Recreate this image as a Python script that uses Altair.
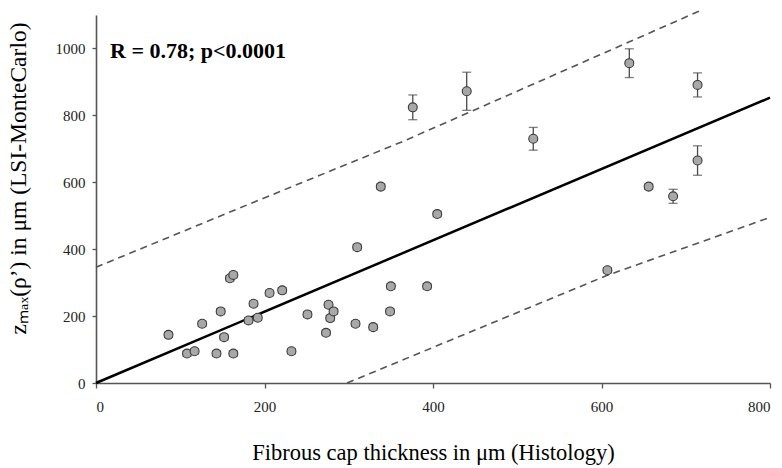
import altair as alt
import pandas as pd

# ---- data ----
cap_thickness = [86, 108, 117, 126, 143, 148, 152, 159, 163, 163, 181, 187, 192, 206, 221,
                 232, 251, 273, 276, 278, 282, 308, 310, 329, 338, 350, 349, 393, 405,
                 376, 440, 519, 633, 714, 714, 656, 685, 607]
zmax = [144, 88, 95, 177, 88, 214, 137, 313, 323, 88, 187, 237, 195, 269, 277,
        95, 205, 150, 234, 194, 214, 177, 406, 167, 587, 289, 214, 289, 505,
        824, 872, 730, 956, 891, 665, 587, 558, 337]
zmax_err = [8] * 29 + [37, 57, 34, 43, 36, 44, 8, 21, 8]

fit_x = [0, 800]
fit_y = [0, 853]

upper_x = [0, 183, 367, 719]
upper_y = [346, 536, 725, 1115]
lower_x = [298, 606, 800]
lower_y = [0, 321, 495]

x_ticks = [0, 200, 400, 600, 800]
y_ticks = [0, 200, 400, 600, 800, 1000]
annotation = ["R = 0.78; p<0.0001"]

x_title = "Fibrous cap thickness in μm (Histology)"
y_title = "zₘₐₓ(ρ’) in μm (LSI-MonteCarlo)"

FONT = "Liberation Serif"

pts = pd.DataFrame({"x": cap_thickness, "y": zmax, "e": zmax_err})
fit = pd.DataFrame({"x": fit_x, "y": fit_y})
band = pd.concat([
    pd.DataFrame({"x": upper_x, "y": upper_y, "band": "upper"}),
    pd.DataFrame({"x": lower_x, "y": lower_y, "band": "lower"}),
])
ann = pd.DataFrame({"t": annotation})

xs = alt.Scale(domain=[0, 800], nice=False, zero=False)
ys = alt.Scale(domain=[0, 1100], nice=False, zero=False)

x_axis = alt.Axis(values=x_ticks, title=x_title, grid=False, tickSize=5,
                  labelPadding=11, titlePadding=27, format="d",
                  titleFontSize=22.5)
y_axis = alt.Axis(values=y_ticks, title=y_title, grid=False, tickSize=4,
                  labelPadding=7, titlePadding=25, format="d",
                  titleFontSize=23.5, titleY=163)

base_pts = alt.Chart(pts)

err_rule = base_pts.transform_calculate(
    lo="datum.y - datum.e", hi="datum.y + datum.e"
).mark_rule(color="#4a4a4a", strokeWidth=1.3).encode(
    x=alt.X("x:Q", scale=xs, axis=x_axis),
    y=alt.Y("lo:Q", scale=ys, axis=y_axis),
    y2="hi:Q",
)

caps_lo = base_pts.transform_calculate(lo="datum.y - datum.e").mark_tick(
    orient="horizontal", size=9, thickness=1.3, color="#4a4a4a"
).encode(x=alt.X("x:Q", scale=xs), y=alt.Y("lo:Q", scale=ys))

caps_hi = base_pts.transform_calculate(hi="datum.y + datum.e").mark_tick(
    orient="horizontal", size=9, thickness=1.3, color="#4a4a4a"
).encode(x=alt.X("x:Q", scale=xs), y=alt.Y("hi:Q", scale=ys))

points = base_pts.mark_point(
    shape="circle", filled=True, size=80, fill="#a8a8a8", stroke="#3a3a3a",
    strokeWidth=1.1, opacity=1
).encode(x=alt.X("x:Q", scale=xs), y=alt.Y("y:Q", scale=ys))

fit_line = alt.Chart(fit).mark_line(color="black", strokeWidth=2.5).encode(
    x=alt.X("x:Q", scale=xs), y=alt.Y("y:Q", scale=ys)
)

band_lines = alt.Chart(band).mark_line(
    color="#555555", strokeWidth=1.6, strokeDash=[7, 5], clip=False
).encode(
    x=alt.X("x:Q", scale=xs), y=alt.Y("y:Q", scale=ys), detail="band:N"
)

text = alt.Chart(ann).mark_text(
    align="left", baseline="middle", font=FONT, fontSize=22, fontWeight="bold",
    color="black"
).encode(x=alt.value(14), y=alt.value(36), text="t:N")

chart = alt.layer(
    band_lines, fit_line, err_rule, caps_lo, caps_hi, points, text
).properties(
    width=674, height=368,
    autosize=alt.AutoSizeParams(type="none"),
    padding={"left": 96, "top": 15, "right": 12, "bottom": 85},
).configure_view(stroke=None).configure_axis(
    labelFont=FONT, titleFont=FONT, labelFontSize=15,
    titleFontWeight="normal", labelColor="#222222", titleColor="black",
    domainColor="#555555", tickColor="#555555", domainWidth=1.6, tickWidth=1.3,
)

chart.save("out.html", embed_options={"renderer": "svg", "actions": False})
